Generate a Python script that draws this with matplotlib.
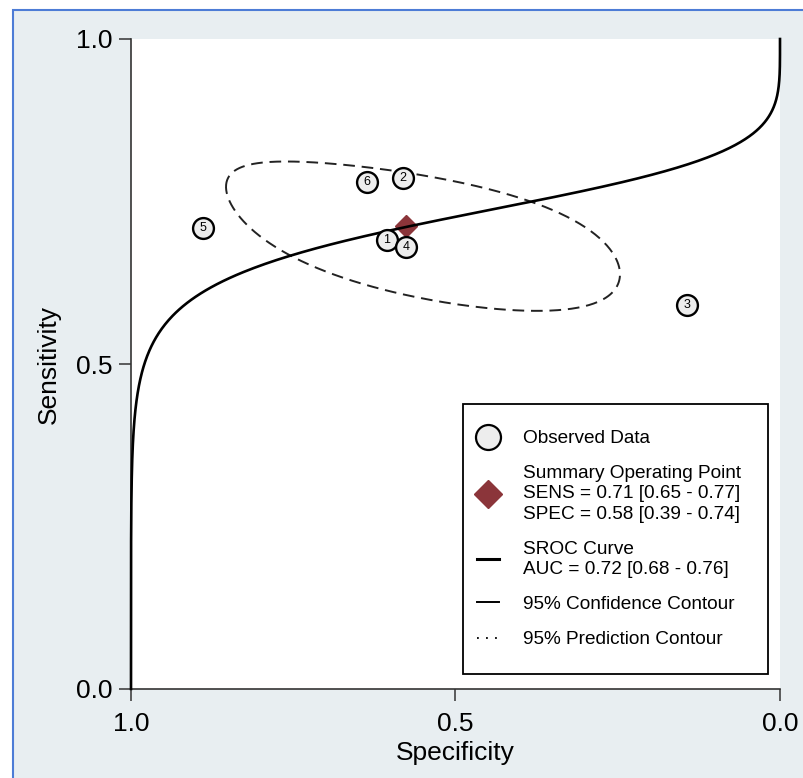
import numpy as np
import matplotlib
matplotlib.use("Agg")
import matplotlib.pyplot as plt
from matplotlib.lines import Line2D
from matplotlib.patches import Rectangle

plt.rcParams['font.family'] = ['Liberation Sans', 'DejaVu Sans']

# observed studies
study_ids = ['1', '2', '3', '4', '5', '6']
spec_obs = [0.606, 0.581, 0.143, 0.576, 0.889, 0.636]
sens_obs = [0.691, 0.786, 0.591, 0.680, 0.709, 0.780]

# summary operating point
sum_spec = 0.576
sum_sens = 0.712
sens_ci = [0.71, 0.65, 0.77]
spec_ci = [0.58, 0.39, 0.74]
auc_ci = [0.72, 0.68, 0.76]

# SROC curve: logit(sens) = a + b * logit(1 - spec)
sroc_a = 0.977
sroc_b = 0.253

# 95% confidence contour (ellipse in logit space)
ell_center = [0.323, 0.895]   # logit spec, logit sens
ell_radius = [1.44, 0.565]
ell_rho = 0.58


def expit(v):
    return 1.0 / (1.0 + np.exp(-v))


fig = plt.figure(figsize=(8.04, 7.78), dpi=100)
fig.patch.set_facecolor('white')
fig.add_artist(Rectangle((13 / 804, -0.05), 1.2, 1 - 10 / 778 + 0.05,
                         transform=fig.transFigure, facecolor='#E8EEF1',
                         edgecolor='#4D7CD6', linewidth=1.5, zorder=0))

ax = fig.add_axes([131 / 804, 1 - 689 / 778, 649 / 804, 650 / 778])
ax.set_facecolor('white')

# SROC curve
lfpr = np.linspace(-40, 40, 3000)
ax.plot(1 - expit(lfpr), expit(sroc_a + sroc_b * lfpr), color='black',
        linewidth=1.9, zorder=3, clip_on=False)

# confidence ellipse
t = np.linspace(0, 2 * np.pi, 400)
ls = ell_center[0] + ell_radius[0] * np.cos(t)
ln = ell_center[1] + ell_radius[1] * np.cos(t - np.arccos(ell_rho))
ax.plot(expit(ls), expit(ln), color='#222222', linewidth=1.4,
        linestyle=(0, (6, 3.5)), zorder=2)

# summary point
ax.plot([sum_spec], [sum_sens], marker='D', color='#8B353A', markersize=11.5,
        linestyle='none', zorder=2.5)

# studies
ax.plot(spec_obs, sens_obs, marker='o', linestyle='none', markersize=15,
        markerfacecolor='#EDEDED', markeredgecolor='black',
        markeredgewidth=1.7, zorder=4)
for sid, x, y in zip(study_ids, spec_obs, sens_obs):
    ax.text(x, y, sid, fontsize=9, ha='center', va='center', zorder=5)

ax.set_xlim(1, 0)
ax.set_ylim(0, 1)
ax.set_xticks([1.0, 0.5, 0.0])
ax.set_xticklabels(['1.0', '0.5', '0.0'])
ax.set_yticks([0.0, 0.5, 1.0])
ax.set_yticklabels(['0.0', '0.5', '1.0'])
ax.tick_params(labelsize=19, length=8.5, width=1.1, pad=5, color='#333333')
ax.tick_params(axis='x', pad=8)
for s in ['top', 'right']:
    ax.spines[s].set_visible(False)
for s in ['left', 'bottom']:
    ax.spines[s].set_linewidth(1.2)
    ax.spines[s].set_color('#333333')
ax.set_xlabel('Specificity', fontsize=19, labelpad=4)
ax.set_ylabel('Sensitivity', fontsize=19, labelpad=11)

# legend frame drawn separately so its size can match
ax.add_patch(Rectangle(((463 - 131) / 649, (689 - 674) / 650), 305 / 649, 270 / 650,
                       transform=ax.transAxes, facecolor='white',
                       edgecolor='black', linewidth=1.3, zorder=6, clip_on=False))

handles = [
    Line2D([], [], marker='o', linestyle='none', markersize=18,
           markerfacecolor='#EDEDED', markeredgecolor='black', markeredgewidth=1.6),
    Line2D([], [], marker='D', linestyle='none', markersize=14, color='#8B353A'),
    Line2D([], [], color='black', linewidth=2.2),
    Line2D([], [], color='black', linewidth=1.4),
    Line2D([], [], color='black', linewidth=1.3, linestyle=(0, (1, 4))),
]
labels = [
    'Observed Data',
    'Summary Operating Point\nSENS = %.2f [%.2f - %.2f]\nSPEC = %.2f [%.2f - %.2f]'
    % (sens_ci[0], sens_ci[1], sens_ci[2], spec_ci[0], spec_ci[1], spec_ci[2]),
    'SROC Curve\nAUC = %.2f [%.2f - %.2f]' % (auc_ci[0], auc_ci[1], auc_ci[2]),
    '95% Confidence Contour',
    '95% Prediction Contour',
]
leg = ax.legend(handles, labels, loc='upper left',
                bbox_to_anchor=((477 - 131) / 649, (689 - 430) / 650),
                fontsize=13.7, frameon=False, handlelength=1.15,
                handletextpad=1.28, borderpad=0, borderaxespad=0,
                labelspacing=0.94)
leg.set_zorder(7)
for txt in leg.get_texts():
    txt.set_linespacing(1.25)

fig.savefig('out.png', dpi=100)
